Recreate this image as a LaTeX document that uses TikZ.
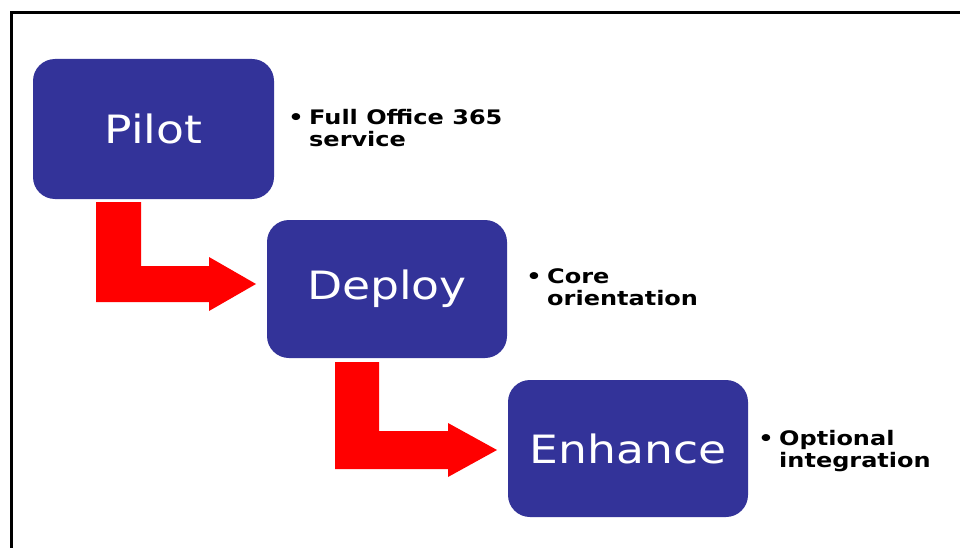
\documentclass[tikz,border=0pt]{standalone}
\usepackage{fontspec}
\setmainfont{DejaVu Sans}
\newfontfamily\boxfont{DejaVu Sans}[FakeStretch=1.17]
\newfontfamily\bulfont{DejaVu Sans}[FakeStretch=1.2]
\definecolor{boxblue}{RGB}{51,51,153}
\definecolor{arrred}{RGB}{255,0,0}
\tikzset{
  stagebox/.style={draw=none, fill=boxblue, rounded corners=22pt, minimum width=#1, inner sep=0pt,
    text=white, font=\boxfont\fontsize{39}{44}\selectfont},
  bul/.style={anchor=base, inner sep=0pt, font=\bulfont\bfseries\fontsize{20}{22}\selectfont},
  bultext/.style={anchor=base west, inner sep=0pt, font=\bulfont\bfseries\fontsize{20}{22}\selectfont},
  bigarrow/.style={fill=arrred, draw=none}
}
\begin{document}
\begin{tikzpicture}[x=1pt,y=-1pt]
\useasboundingbox (0,0) rectangle (960,548);
\fill[white] (0,0) rectangle (960,548);
% frame
\draw[line width=3pt] (11.5,548) |- (960,12.5);
% boxes
\node[stagebox=241pt, minimum height=140pt] (pilot) at (153.5,129) {Pilot};
\node[stagebox=240pt, minimum height=138pt] (deploy) at (387,289) {Deploy};
\node[stagebox=240pt, minimum height=137pt] (enhance) at (628,448.5) {Enhance};
% arrows
\fill[bigarrow] (96,202) -- (141,202) -- (141,266) -- (209,266) -- (209,257) -- (256,284) -- (209,311) -- (209,302) -- (96,302) -- cycle;
\fill[bigarrow] (335,362) -- (379,362) -- (379,431) -- (448,431) -- (448,423) -- (497,450) -- (448,477) -- (448,469) -- (335,469) -- cycle;
% bullets
\node[bul] (b1) at (296,125) {•};
\node[bultext] (t1a) at (309,125) {Full Office 365};
\node[bultext] (t1b) at (309,147) {service};
\node[bul] (b2) at (534,283) {•};
\node[bultext] (t2a) at (547,283) {Core};
\node[bultext] (t2b) at (547,305) {orientation};
\node[bul] (b3) at (766,445) {•};
\node[bultext] (t3a) at (779,445) {Optional};
\node[bultext] (t3b) at (779,467) {integration};
\end{tikzpicture}
\end{document}
